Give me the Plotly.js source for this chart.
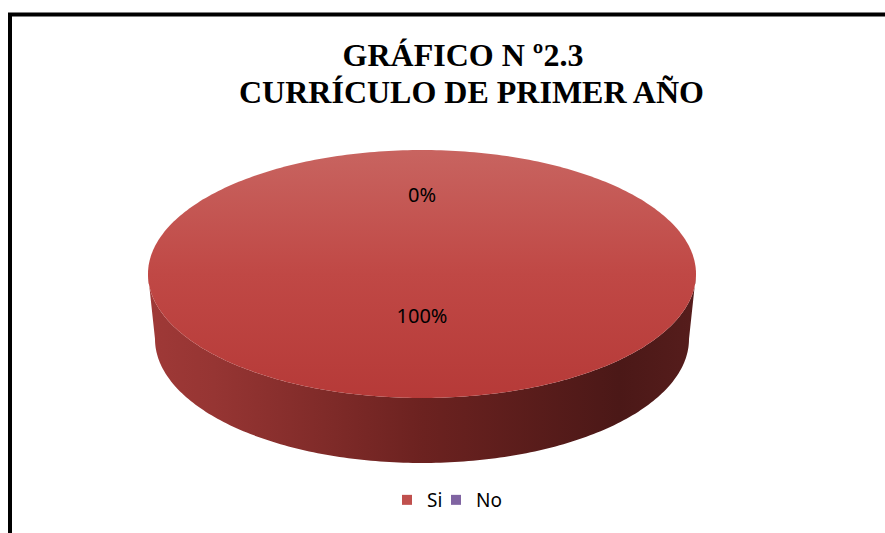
<!DOCTYPE html>
<html>
<head>
<meta charset="utf-8">
<script src="https://cdn.plot.ly/plotly-3.0.1.min.js"></script>
<style>html,body{margin:0;padding:0;background:#fff;}#chart{width:885px;height:533px;}</style>
</head>
<body>
<div id="chart"></div>
<script>
// ---- data ----
const categories = ['Si', 'No'];
const values = [100, 0];
const sliceColors = ['#c0504d', '#8064a2'];
const titleLines = ['GRÁFICO N º2.3', 'CURRÍCULO DE PRIMER AÑO'];

// ---- geometry / style constants (pixel-like units, y up) ----
const W = 885, H = 533;
const CX = 422, CY = 259, RX = 274, RY = 124;      // top face
const DEPTH = 65, RXB = 267, RYB = 124;            // bottom face
const CYB = CY - DEPTH;
const LABEL_R = [0.355, 0.62];
const LEGEND_LEFT = [387, 436];

function hexToRgb(h){h=h.replace('#','');return [parseInt(h.substr(0,2),16),parseInt(h.substr(2,2),16),parseInt(h.substr(4,2),16)];}
function shade(hex, fr, fg){const c=hexToRgb(hex);const r=Math.min(255,Math.round(c[0]*fr)),g=Math.min(255,Math.round(c[1]*fg)),b=Math.min(255,Math.round(c[2]*fg));return 'rgb('+r+','+g+','+b+')';}

function pt(thDeg, cx, cy, rx, ry){const t=thDeg*Math.PI/180;return [cx+rx*Math.sin(t), cy+ry*Math.cos(t)];}
function arc(a, b, cx, cy, rx, ry){const pts=[];const n=Math.max(2,Math.ceil(Math.abs(b-a)/1));for(let i=0;i<=n;i++){pts.push(pt(a+(b-a)*i/n,cx,cy,rx,ry));}return pts;}

const total = values.reduce((s,v)=>s+v,0);
const traces = [];
let start = 0;
const labelX = [], labelY = [], labelText = [];
values.forEach((v, i) => {
  const frac = v/total;
  const a = start, b = start + frac*360;
  const base = sliceColors[i];
  // side (front half: 90..270 deg clockwise from top)
  const s = Math.max(a, 90), e = Math.min(b, 270);
  if (e > s) {
    const top = arc(s, e, CX, CY, RX, RY);
    const bot = arc(e, s, CX, CYB, RXB, RYB);
    const poly = top.concat(bot);
    traces.push({
      type:'scatter', mode:'none', fill:'toself', hoverinfo:'skip', showlegend:false,
      x: poly.map(p=>p[0]), y: poly.map(p=>p[1]),
      fillgradient:{type:'horizontal', start: CX-RX, stop: CX+RX,
        colorscale:[[0, shade(base,0.83,0.71)],[0.12, shade(base,0.78,0.66)],[0.5, shade(base,0.56,0.42)],[0.86, shade(base,0.39,0.30)],[1, shade(base,0.45,0.36)]]}
    });
  }
  // top face
  if (frac > 0) {
    let poly = arc(a, b, CX, CY, RX, RY);
    if (frac < 1) poly = [[CX,CY]].concat(poly);
    traces.push({
      type:'scatter', mode:'none', fill:'toself', hoverinfo:'skip', showlegend:false,
      x: poly.map(p=>p[0]), y: poly.map(p=>p[1]),
      fillgradient:{type:'vertical', start: CY-RY, stop: CY+RY,
        colorscale:[[0, shade(base,0.95,0.725)],[0.5, shade(base,1.0,0.9)],[1, shade(base,1.04,1.25)]]}
    });
  }
  const mid = (a+b)/2;
  const lp = pt(mid, CX, CY, RX*LABEL_R[i], RY*LABEL_R[i]);
  labelX.push(lp[0]); labelY.push(lp[1]);
  labelText.push(Math.round(frac*100)+'%');
  start = b;
});

traces.push({
  type:'scatter', mode:'text', x: labelX, y: labelY, text: labelText,
  textposition:'middle center', hoverinfo:'skip', showlegend:false,
  textfont:{family:'Noto Sans, Liberation Sans, sans-serif', size:20, color:'#000'}
});

const legendFont = {family:'Noto Sans, Liberation Sans, sans-serif', size:19, color:'#000'};
const layout = {
  width: W, height: H,
  margin:{l:0,r:0,t:0,b:0},
  paper_bgcolor:'#fff', plot_bgcolor:'rgba(0,0,0,0)',
  hovermode:false,
  title:{text: titleLines[0], x: 463/W, xanchor:'center', y: 1-55/H, yanchor:'middle', yref:'paper',
    font:{family:'Liberation Serif, Times New Roman, serif', size:32, color:'#000', weight:'bold'}},
  annotations:[{text: titleLines[1], xref:'paper', yref:'paper', x: 471/W, y: 1-92/H, xanchor:'center', yanchor:'middle', showarrow:false,
    font:{family:'Liberation Serif, Times New Roman, serif', size:32, color:'#000', weight:'bold'}}],
  xaxis:{range:[0,W], visible:false, fixedrange:true},
  yaxis:{range:[0,H], visible:false, fixedrange:true},
  showlegend:true,
  shapes:[{type:'rect', xref:'x', yref:'y', x0:10, x1:W+20, y0:H-14.5, y1:-20, line:{color:'#000', width:4}, fillcolor:'rgba(0,0,0,0)', layer:'above'}]
};

categories.forEach((c, i) => {
  const lname = i === 0 ? 'legend' : 'legend' + (i+1);
  traces.push({
    type:'scatter', mode:'markers', x:[null], y:[null], name:c, legend: lname,
    marker:{symbol:'square', size:10, color: sliceColors[i]}
  });
  layout[lname] = {orientation:'h', x: LEGEND_LEFT[i]/W, xanchor:'left', y:(H-500)/H, yanchor:'middle',
    font: legendFont, bgcolor:'rgba(0,0,0,0)'};
});

Plotly.newPlot('chart', traces, layout, {displayModeBar:false, staticPlot:true});
</script>
</body>
</html>
